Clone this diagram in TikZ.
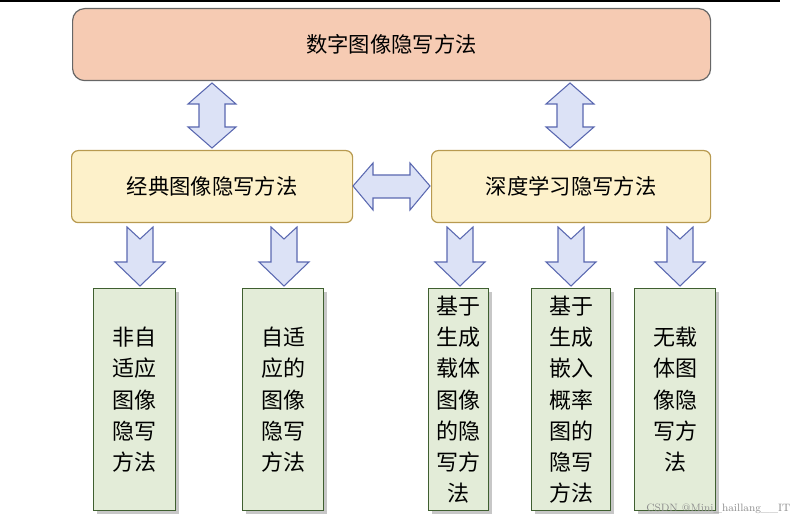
\documentclass[tikz,border=0pt]{standalone}
\usepackage{fontspec}
\newfontfamily\cjk{Noto Sans CJK SC}
\definecolor{topfill}{HTML}{F6CBB3}
\definecolor{midfill}{HTML}{FDF1CA}
\definecolor{midline}{HTML}{B89A50}
\definecolor{leaffill}{HTML}{E3ECD8}
\definecolor{leafline}{HTML}{3F5F30}
\definecolor{arrfill}{HTML}{DCE2F6}
\definecolor{arrline}{HTML}{5A68B0}
\begin{document}
\begin{tikzpicture}[x=0.75pt,y=-0.75pt,
  topbox/.style={draw=black!60,line width=0.9pt,rounded corners=9pt,fill=topfill,font=\cjk\fontsize{16}{18}\selectfont,anchor=north west},
  midbox/.style={draw=midline,line width=0.9pt,rounded corners=5pt,fill=midfill,font=\cjk\fontsize{16}{18}\selectfont,anchor=north west},
  leaf/.style={draw=leafline,line width=1pt,fill=leaffill,font=\cjk\fontsize{16.5}{23.3}\selectfont,align=center,anchor=north west,inner sep=0pt,minimum height=222*0.75pt},
  shadowbox/.style={fill=black!22},
  arr/.style={draw=arrline,line width=0.8pt,fill=arrfill}]
\useasboundingbox (0,0) rectangle (803,523);
\draw[line width=1pt] (0,1) -- (780,1);
\node[topbox,minimum width=638*0.75pt,minimum height=72*0.75pt] (top) at (72,8) {数字图像隐写方法};
\node[midbox,minimum width=281*0.75pt,minimum height=72*0.75pt] (cl) at (71,150) {经典图像隐写方法};
\node[midbox,minimum width=279*0.75pt,minimum height=72*0.75pt] (dl) at (431,150) {深度学习隐写方法};
\foreach \xa/\xb in {93/175,242/323,428/488,531/610,634/715}
  \fill[shadowbox] (\xa+4,292) rectangle (\xb+4,514);
\node[leaf,minimum width=82*0.75pt] (b1) at (93,288) {非自\\适应\\图像\\隐写\\方法};
\node[leaf,minimum width=81*0.75pt] (b2) at (242,288) {自适\\应的\\图像\\隐写\\方法};
\node[leaf,minimum width=60*0.75pt] (b3) at (428,288) {基于\\生成\\载体\\图像\\的隐\\写方\\法};
\node[leaf,minimum width=79*0.75pt] (b4) at (531,288) {基于\\生成\\嵌入\\概率\\图的\\隐写\\方法};
\node[leaf,minimum width=81*0.75pt] (b5) at (634,288) {无载\\体图\\像隐\\写方\\法};
% vertical double arrows
\foreach \cx in {212,570}
  \draw[arr] (\cx,83) -- (\cx+24,104) -- (\cx+13,104) -- (\cx+13,127) -- (\cx+24,127) -- (\cx,148) -- (\cx-24,127) -- (\cx-13,127) -- (\cx-13,104) -- (\cx-24,104) -- cycle;
% horizontal double arrow
\draw[arr] (353,186) -- (373,163) -- (373,175) -- (410,175) -- (410,163) -- (430,186) -- (410,210) -- (410,198) -- (373,198) -- (373,210) -- cycle;
% down arrows
\foreach \cx in {140,284,460,571,680}
  \draw[arr] (\cx-13,227) -- (\cx,239) -- (\cx+13,227) -- (\cx+13,262) -- (\cx+25,262) -- (\cx,286) -- (\cx-25,262) -- (\cx-13,262) -- cycle;
\node[font=\fontsize{8}{9}\selectfont,text=black!45,anchor=south east] (wm) at (795,518) {CSDN @Mini\_haillang\_\_IT};
\end{tikzpicture}
\end{document}
